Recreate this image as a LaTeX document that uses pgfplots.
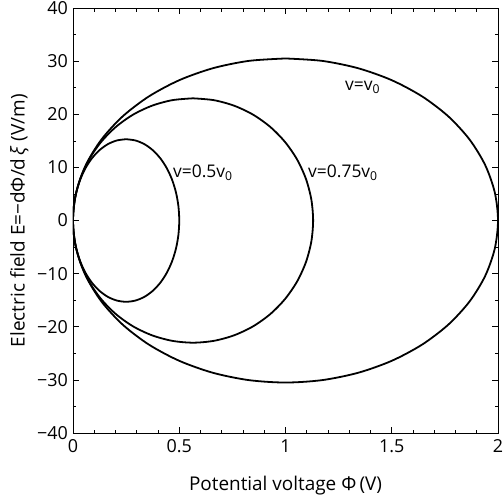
\documentclass[border=0pt]{standalone}
\usepackage{pgfplots}
\pgfplotsset{compat=1.18}
\usepackage{fontspec}
\setmainfont{Open Sans}
\begin{document}
\begin{tikzpicture}
\useasboundingbox (-73bp,-63bp) rectangle (430bp,433bp);
\begin{axis}[
  at={(0,0)}, anchor=south west,
  scale only axis, width=425bp, height=425bp,
  xmin=0, xmax=2, ymin=-40, ymax=40,
  xtick={0,0.5,1,1.5,2}, xticklabels={0,0.5,1,1.5,2},
  ytick={-40,-30,-20,-10,0,10,20,30,40},
  yticklabels={−40,−30,−20,−10,0,10,20,30,40},
  minor xtick={0.1,0.2,0.3,0.4,0.6,0.7,0.8,0.9,1.1,1.2,1.3,1.4,1.6,1.7,1.8,1.9},
  minor ytick={-35,-25,-15,-5,5,15,25,35},
  tick align=inside, major tick length=6bp, minor tick length=3.5bp,
  tick style={black, line width=0.6pt},
  axis line style={line width=0.8pt},
  tick label style={font=\fontsize{18}{18}\selectfont},
  label style={font=\fontsize{19}{19}\selectfont},
  xticklabel style={yshift=-3bp},
  yticklabel style={xshift=-1.5bp},
  xlabel={Potential voltage Φ\,(V)},
  ylabel={Electric field E=−dΦ/d\,\textit{ξ} (V/m)},
  xlabel style={yshift=-16bp},
  ylabel style={yshift=2bp},
]
\addplot[black, line width=1.8pt, smooth] coordinates {
(1,30.5) (1.1736,30.04) (1.3420,28.66) (1.5,26.41) (1.6428,23.36) (1.7660,19.61) (1.8660,15.25) (1.9397,10.43) (1.9848,5.295) (2,0)
(1.9848,-5.295) (1.9397,-10.43) (1.8660,-15.25) (1.7660,-19.61) (1.6428,-23.36) (1.5,-26.41) (1.3420,-28.66) (1.1736,-30.04) (1,-30.5)
(0.8264,-30.04) (0.6580,-28.66) (0.5,-26.41) (0.3572,-23.36) (0.2340,-19.61) (0.1340,-15.25) (0.0603,-10.43) (0.0152,-5.295) (0,0)
(0.0152,5.295) (0.0603,10.43) (0.1340,15.25) (0.2340,19.61) (0.3572,23.36) (0.5,26.41) (0.6580,28.66) (0.8264,30.04) (1,30.5)
};
\addplot[black, line width=1.8pt, smooth] coordinates {
(0.565,23) (0.6631,22.65) (0.7582,21.61) (0.8475,19.92) (0.9282,17.62) (0.9978,14.78) (1.0543,11.5) (1.0959,7.866) (1.1214,3.993) (1.13,0)
(1.1214,-3.993) (1.0959,-7.866) (1.0543,-11.5) (0.9978,-14.78) (0.9282,-17.62) (0.8475,-19.92) (0.7582,-21.61) (0.6631,-22.65) (0.565,-23)
(0.4669,-22.65) (0.3718,-21.61) (0.2825,-19.92) (0.2018,-17.62) (0.1322,-14.78) (0.0757,-11.5) (0.0341,-7.866) (0.0086,-3.993) (0,0)
(0.0086,3.993) (0.0341,7.866) (0.0757,11.5) (0.1322,14.78) (0.2018,17.62) (0.2825,19.92) (0.3718,21.61) (0.4669,22.65) (0.565,23)
};
\addplot[black, line width=1.8pt, smooth] coordinates {
(0.25,15.3) (0.2934,15.07) (0.3355,14.38) (0.375,13.25) (0.4107,11.72) (0.4415,9.835) (0.4665,7.65) (0.4849,5.233) (0.4962,2.656) (0.5,0)
(0.4962,-2.656) (0.4849,-5.233) (0.4665,-7.65) (0.4415,-9.835) (0.4107,-11.72) (0.375,-13.25) (0.3355,-14.38) (0.2934,-15.07) (0.25,-15.3)
(0.2066,-15.07) (0.1645,-14.38) (0.125,-13.25) (0.0893,-11.72) (0.0585,-9.835) (0.0335,-7.65) (0.0151,-5.233) (0.0038,-2.656) (0,0)
(0.0038,2.656) (0.0151,5.233) (0.0335,7.65) (0.0585,9.835) (0.0893,11.72) (0.125,13.25) (0.1645,14.38) (0.2066,15.07) (0.25,15.3)
};
\node[anchor=west, font=\fontsize{17.5}{17.5}\selectfont, inner sep=0pt] at (axis cs:1.28,25) {v=v\textsubscript{0}};
\node[anchor=west, font=\fontsize{17.5}{17.5}\selectfont, inner sep=0pt] at (axis cs:0.47,9) {v=0.5v\textsubscript{0}};
\node[anchor=west, font=\fontsize{17.5}{17.5}\selectfont, inner sep=0pt] at (axis cs:1.106,9) {v=0.75v\textsubscript{0}};
\end{axis}
\end{tikzpicture}
\end{document}
